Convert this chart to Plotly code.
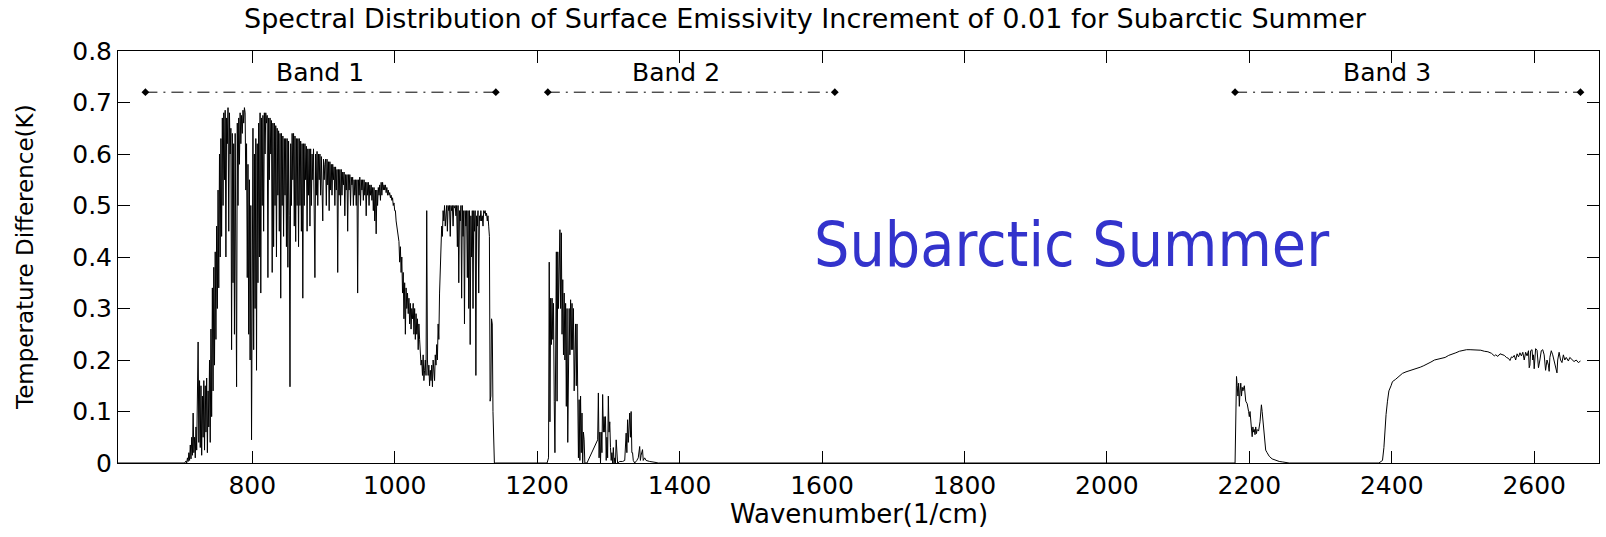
import plotly.graph_objects as go

# ---------------- data ----------------
wn_lead = [611, 705]
dt_lead = [0.0, 0.0]

band1_start = 706
dt_band1 = [
    0.002, 0.004, 0.0, 0.01, 0.003, 0.02, 0.005, 0.035, 0.008, 0.05,
    0.015, 0.097, 0.02, 0.05, 0.01, 0.07, 0.025, 0.12, 0.235, 0.04,
    0.16, 0.03, 0.15, 0.015, 0.13, 0.05, 0.16, 0.025, 0.15, 0.06,
    0.165, 0.02, 0.14, 0.07, 0.2, 0.04, 0.26, 0.09, 0.34, 0.14,
    0.38, 0.19, 0.41, 0.24, 0.46, 0.3, 0.53, 0.34, 0.6, 0.4,
    0.63, 0.44, 0.67, 0.5, 0.68, 0.55, 0.685, 0.4, 0.67, 0.62,
    0.69, 0.45, 0.68, 0.6, 0.65, 0.22, 0.64, 0.35, 0.62, 0.25,
    0.64, 0.4, 0.148, 0.66, 0.5, 0.67, 0.58, 0.68, 0.62, 0.675,
    0.64, 0.685, 0.66, 0.69, 0.68, 0.53, 0.62, 0.36, 0.58, 0.25,
    0.55, 0.2, 0.5, 0.045, 0.48, 0.65, 0.22, 0.6, 0.3, 0.63,
    0.18, 0.62, 0.35, 0.66, 0.4, 0.68, 0.33, 0.67, 0.5, 0.675,
    0.45, 0.68, 0.6, 0.68, 0.66, 0.675, 0.36, 0.67, 0.55, 0.67,
    0.6, 0.665, 0.37, 0.66, 0.42, 0.66, 0.5, 0.655, 0.40, 0.65,
    0.52, 0.645, 0.45, 0.64, 0.32, 0.64, 0.5, 0.635, 0.44, 0.63,
    0.52, 0.63, 0.42, 0.63, 0.38, 0.625, 0.48, 0.148, 0.62, 0.5,
    0.64, 0.55, 0.64, 0.46, 0.635, 0.43, 0.63, 0.5, 0.63, 0.42,
    0.63, 0.5, 0.625, 0.45, 0.62, 0.32, 0.62, 0.5, 0.62, 0.55,
    0.615, 0.45, 0.61, 0.52, 0.61, 0.46, 0.61, 0.5, 0.6, 0.55,
    0.61, 0.45, 0.36, 0.6, 0.52, 0.605, 0.5, 0.6, 0.55, 0.6,
    0.52, 0.595, 0.5, 0.47, 0.59, 0.55, 0.58, 0.59, 0.5, 0.59,
    0.54, 0.585, 0.49, 0.585, 0.53, 0.58, 0.52, 0.58, 0.55, 0.575,
    0.5, 0.575, 0.53, 0.57, 0.37, 0.57, 0.52, 0.57, 0.5, 0.57,
    0.52, 0.565, 0.54, 0.565, 0.48, 0.56, 0.53, 0.56, 0.45, 0.56,
    0.53, 0.56, 0.5, 0.555, 0.54, 0.555, 0.5, 0.55, 0.52, 0.55,
    0.5, 0.55, 0.33, 0.55, 0.52, 0.555, 0.5, 0.55, 0.53, 0.55,
    0.51, 0.55, 0.52, 0.545, 0.48, 0.545, 0.52, 0.545, 0.5, 0.54,
    0.52, 0.54, 0.51, 0.535, 0.49, 0.535, 0.47, 0.53, 0.445, 0.53,
    0.5, 0.535, 0.52, 0.54, 0.51, 0.545, 0.52, 0.545, 0.53, 0.54,
    0.53, 0.54, 0.525, 0.535, 0.52, 0.53, 0.52, 0.525, 0.515, 0.52,
    0.51, 0.515, 0.5, 0.505, 0.49, 0.49, 0.47, 0.46, 0.44, 0.43,
    0.43, 0.39, 0.42, 0.37, 0.4, 0.33, 0.37, 0.28, 0.35, 0.25,
    0.34, 0.3, 0.33, 0.29, 0.32, 0.27, 0.31, 0.26, 0.3, 0.28,
    0.31, 0.25, 0.3, 0.24, 0.29, 0.25, 0.28, 0.22, 0.27, 0.24,
    0.22, 0.19, 0.2, 0.17, 0.21, 0.16, 0.18, 0.2, 0.17, 0.49,
    0.2, 0.17, 0.19, 0.15, 0.18, 0.16, 0.19, 0.148, 0.2, 0.18,
    0.16, 0.21, 0.19, 0.23, 0.2, 0.27, 0.24, 0.33, 0.38, 0.43,
    0.46, 0.44, 0.49, 0.47, 0.5, 0.46, 0.495, 0.5, 0.45, 0.5,
    0.49, 0.5, 0.44, 0.5, 0.49, 0.5, 0.46, 0.5, 0.495, 0.5,
    0.48, 0.5, 0.42, 0.5, 0.35, 0.49, 0.47, 0.5, 0.32, 0.5,
    0.44, 0.49, 0.27, 0.49, 0.46, 0.49, 0.36, 0.49, 0.3, 0.49,
    0.23, 0.48, 0.4, 0.49, 0.3, 0.49, 0.45, 0.49, 0.17, 0.48,
    0.46, 0.49, 0.33, 0.48, 0.47, 0.49, 0.47, 0.48, 0.46, 0.49,
    0.485, 0.49, 0.48, 0.485, 0.47, 0.48, 0.46, 0.44, 0.12, 0.13,
    0.28, 0.27, 0.1, 0.02, 0.0,
]
wn_band1 = list(range(band1_start, band1_start + len(dt_band1)))

wn_band2 = [
    1142, 1214, 1216, 1217, 1218, 1219, 1220, 1221, 1222, 1223,
    1224, 1225, 1226, 1227, 1228, 1229, 1230, 1231, 1232, 1233,
    1234, 1235, 1236, 1237, 1238, 1239, 1240, 1241, 1242, 1243,
    1244, 1245, 1246, 1247, 1248, 1249, 1250, 1251, 1252, 1253,
    1254, 1255, 1256, 1257, 1258, 1259, 1260, 1261, 1262, 1263,
    1264, 1265, 1266, 1267, 1270, 1285, 1286, 1287, 1288, 1289,
    1290, 1291, 1292, 1293, 1294, 1295, 1296, 1297, 1298, 1299,
    1300, 1301, 1302, 1303, 1304, 1305, 1306, 1307, 1308, 1309,
    1310, 1311, 1312, 1313, 1316, 1320, 1323, 1324, 1325, 1326,
    1327, 1328, 1329, 1330, 1331, 1332, 1333, 1334, 1335, 1337,
    1340, 1342, 1344, 1345, 1346, 1348, 1349, 1351, 1353, 1358,
    1367, 1370,
]
dt_band2 = [
    0.0, 0.0, 0.01, 0.39, 0.08, 0.32, 0.23, 0.32, 0.24, 0.31,
    0.12, 0.02, 0.2, 0.41, 0.12, 0.41, 0.3, 0.44, 0.453, 0.3,
    0.447, 0.25, 0.356, 0.21, 0.33, 0.2, 0.31, 0.11, 0.3, 0.04,
    0.22, 0.3, 0.21, 0.317, 0.22, 0.31, 0.22, 0.3, 0.14, 0.22,
    0.27, 0.15, 0.27, 0.136, 0.01, 0.123, 0.005, 0.13, 0.02, 0.097,
    0.0, 0.06, 0.045, 0.0, 0.0, 0.045, 0.136, 0.01, 0.06, 0.0,
    0.06, 0.02, 0.133, 0.06, 0.09, 0.06, 0.09, 0.005, 0.05, 0.01,
    0.13, 0.06, 0.08, 0.03, 0.005, 0.02, 0.0, 0.03, 0.0, 0.01,
    0.0, 0.045, 0.01, 0.0, 0.003, 0.003, 0.005, 0.03, 0.058, 0.02,
    0.084, 0.04, 0.09, 0.097, 0.05, 0.1, 0.02, 0.02, 0.005, 0.0,
    0.005, 0.01, 0.032, 0.005, 0.015, 0.026, 0.005, 0.01, 0.005, 0.003,
    0.001, 0.0,
]

wn_band3 = [
    2180, 2182, 2183, 2184, 2185, 2186, 2187, 2188, 2189, 2190,
    2191, 2193, 2195, 2197, 2199, 2200, 2201, 2202, 2203, 2204,
    2205, 2206, 2207, 2208, 2209, 2210, 2211, 2213, 2215, 2216,
    2217, 2218, 2219, 2221, 2223, 2225, 2228, 2232, 2237, 2242,
    2247, 2256, 2382, 2384, 2387, 2389, 2390, 2392, 2394, 2396,
    2399, 2401, 2405, 2410, 2415, 2420, 2425, 2430, 2435, 2440,
    2445, 2450, 2455, 2460, 2465, 2470, 2475, 2480, 2485, 2490,
    2495, 2500, 2505, 2510, 2515, 2520, 2525, 2530, 2535, 2540,
    2544, 2546, 2549, 2552, 2555, 2558, 2561, 2564, 2566, 2568,
    2570, 2572, 2574, 2576, 2578, 2580, 2582, 2584, 2586, 2588,
    2590, 2592, 2593, 2594, 2595, 2597, 2598, 2599, 2600, 2602,
    2604, 2605, 2606, 2608, 2610, 2612, 2614, 2616, 2618, 2620,
    2621, 2622, 2624, 2626, 2628, 2630, 2632, 2633, 2635, 2637,
    2639, 2641, 2643, 2645, 2648, 2650, 2653, 2656, 2659, 2662,
    2665,
]
dt_band3 = [
    0.0, 0.168, 0.15, 0.13, 0.155, 0.11, 0.14, 0.155, 0.13, 0.147,
    0.14, 0.15, 0.12, 0.115, 0.1, 0.09, 0.1, 0.085, 0.06, 0.051,
    0.07, 0.06, 0.065, 0.055, 0.07, 0.057, 0.065, 0.062, 0.08, 0.095,
    0.113, 0.1, 0.085, 0.05, 0.025, 0.02, 0.013, 0.008, 0.005, 0.003,
    0.002, 0.0, 0.0, 0.002, 0.005, 0.03, 0.06, 0.094, 0.12, 0.14,
    0.15, 0.158, 0.162, 0.168, 0.174, 0.177, 0.179, 0.181, 0.183, 0.186,
    0.189, 0.192, 0.196, 0.2, 0.202, 0.203, 0.205, 0.209, 0.211, 0.214,
    0.217, 0.219, 0.22, 0.22, 0.22, 0.219, 0.219, 0.217, 0.216, 0.213,
    0.208, 0.21, 0.207, 0.212, 0.21, 0.209, 0.205, 0.203, 0.199, 0.206,
    0.205, 0.209, 0.2, 0.212, 0.206, 0.214, 0.208, 0.215, 0.2, 0.215,
    0.208, 0.218, 0.185, 0.19, 0.218, 0.22, 0.2, 0.21, 0.183, 0.222,
    0.219, 0.2, 0.185, 0.2, 0.218, 0.22, 0.21, 0.18, 0.2, 0.19,
    0.178, 0.205, 0.218, 0.21, 0.2, 0.19, 0.175, 0.2, 0.215, 0.2,
    0.195, 0.21, 0.2, 0.205, 0.198, 0.205, 0.2, 0.197, 0.2, 0.195,
    0.198,
]

assert len(wn_band2) == len(dt_band2), (len(wn_band2), len(dt_band2))
assert len(wn_band3) == len(dt_band3), (len(wn_band3), len(dt_band3))

band_names = ["Band 1", "Band 2", "Band 3"]
band_start = [650, 1215, 2180]
band_end = [1142, 1618, 2665]
band_label_x = [895, 1395, 2394]
band_line_y = 0.72
band_label_y = 0.758

x_ticks = [800, 1000, 1200, 1400, 1600, 1800, 2000, 2200, 2400, 2600]
y_ticks = [0, 0.1, 0.2, 0.3, 0.4, 0.5, 0.6, 0.7, 0.8]
y_tick_text = ["0", "0.1", "0.2", "0.3", "0.4", "0.5", "0.6", "0.7", "0.8"]

title_text = "Spectral Distribution of Surface Emissivity Increment of 0.01 for Subarctic Summer"
x_title = "Wavenumber(1/cm)"
y_title = "Temperature Difference(K)"
big_label = "Subarctic Summer"

# ---------------- figure ----------------
wn_all = wn_lead + wn_band1 + wn_band2 + wn_band3
dt_all = dt_lead + dt_band1 + dt_band2 + dt_band3

AX_FONT = "DejaVu Sans, Liberation Sans, Arial, sans-serif"

fig = go.Figure()
fig.add_trace(go.Scatter(
    x=wn_all, y=dt_all, mode="lines",
    line=dict(color="black", width=1),
    hoverinfo="skip",
))

for s, e in zip(band_start, band_end):
    fig.add_trace(go.Scatter(
        x=[s, e], y=[band_line_y, band_line_y], mode="lines+markers",
        line=dict(color="black", width=1, dash="12px,6px,2px,6px"),
        marker=dict(symbol="diamond", size=6, color="black"),
        hoverinfo="skip",
    ))

annotations = []
for name, lx in zip(band_names, band_label_x):
    annotations.append(dict(
        x=lx, y=band_label_y, xref="x", yref="y", text=name, showarrow=False,
        font=dict(family=AX_FONT, size=25, color="black"),
        xanchor="center", yanchor="middle",
    ))

annotations.append(dict(
    x=1950, y=0.425, xref="x", yref="y", text=big_label, showarrow=False,
    font=dict(family="DejaVu Sans Condensed, Liberation Sans, Arial, sans-serif", size=62, color="#3333cc"),
    xanchor="center", yanchor="middle",
))

annotations.append(dict(
    x=0.5, y=0, xref="paper", yref="paper", text=x_title, showarrow=False,
    font=dict(family=AX_FONT, size=26, color="black"),
    xanchor="center", yanchor="middle", yshift=-51,
))
annotations.append(dict(
    x=0, y=0.5, xref="paper", yref="paper", text=y_title, showarrow=False,
    font=dict(family=AX_FONT, size=23, color="black"), textangle=-90,
    xanchor="center", yanchor="middle", xshift=-93,
))

fig.update_layout(
    width=1606, height=537,
    margin=dict(l=118, r=7, t=51, b=74),
    paper_bgcolor="white", plot_bgcolor="white",
    showlegend=False,
    title=dict(
        text=title_text, xref="container", yref="container",
        x=805 / 1606, y=1 - 19 / 537, xanchor="center", yanchor="middle",
        font=dict(family=AX_FONT, size=27, color="black"),
    ),
    annotations=annotations,
)

fig.update_xaxes(
    range=[611.5, 2691], tickvals=x_ticks, ticktext=[str(v) for v in x_ticks],
    ticks="inside", ticklen=12, tickcolor="black", tickwidth=1,
    showline=True, linecolor="black", linewidth=1, mirror="ticks",
    showgrid=False, zeroline=False,
    tickfont=dict(family=AX_FONT, size=25, color="black"),
)
fig.update_yaxes(
    range=[0, 0.8], tickvals=y_ticks, ticktext=y_tick_text,
    ticks="inside", ticklen=12, tickcolor="black", tickwidth=1,
    showline=True, linecolor="black", linewidth=1, mirror="ticks",
    showgrid=False, zeroline=False,
    tickfont=dict(family=AX_FONT, size=25, color="black"),
)

fig.write_html("out.html")
